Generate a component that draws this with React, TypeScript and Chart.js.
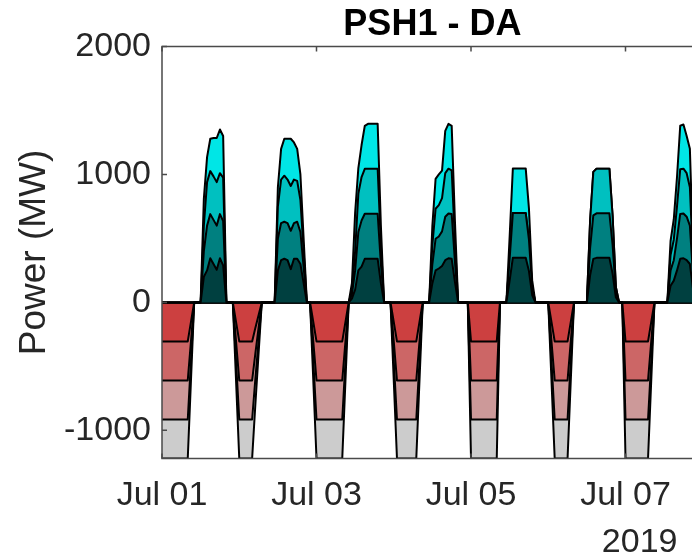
import { useEffect, useRef } from "react";
import { Chart, registerables } from "chart.js";

Chart.register(...registerables);

// ---------------- DATA (hourly, 2019-07-01 00:00 .. 2019-07-08 00:00) ----------------
const chartTitle = "PSH1 - DA";
const yAxisTitle = "Power (MW)";
const xTickHours = [0, 48, 96, 144];
const xTickLabels = ["Jul 01", "Jul 03", "Jul 05", "Jul 07"];
const yearLabel = "2019";
const yTickValues = [-1000, 0, 1000, 2000];
const yMin = -1220;
const yMax = 2000;
const xMax = 168;

// Generation of the four units (MW), one row per day (24 h)
const genUnit1 = [
  0,0,0,0,0,0,0,0,0,0,0,0,0,200,250,345,300,255,345,290,0,0,0,0,
  0,0,0,0,0,0,0,0,0,0,0,0,250,330,341,330,260,341,341,300,150,0,0,0,
  0,0,0,0,0,0,0,0,0,0,0,30,100,250,280,341,341,341,341,341,150,0,0,0,
  0,0,0,0,0,0,0,0,0,0,0,0,150,250,265,285,330,345,341,160,0,0,0,0,
  0,0,0,0,0,0,0,0,0,0,0,0,170,349,349,349,349,349,245,58,0,0,0,0,
  0,0,0,0,0,0,0,0,0,0,0,0,0,212,340,348,348,348,348,348,224,40,0,0,
  0,0,0,0,0,0,0,0,0,0,0,0,0,0,130,170,250,341,345,330,300,100,0,0,
  0,
];
const genUnit2 = [
  0,0,0,0,0,0,0,0,0,0,0,0,0,200,350,345,345,345,345,345,0,0,0,0,
  0,0,0,0,0,0,0,0,0,0,0,0,250,290,289,290,300,279,289,250,125,0,0,0,
  0,0,0,0,0,0,0,0,0,0,0,30,150,300,360,352,352,352,352,352,150,0,0,0,
  0,0,0,0,0,0,0,0,0,0,0,0,150,247,250,270,340,350,350,160,0,0,0,0,
  0,0,0,0,0,0,0,0,0,0,0,0,170,349,349,349,349,349,245,58,0,0,0,0,
  0,0,0,0,0,0,0,0,0,0,0,0,0,212,340,348,348,348,348,348,224,40,0,0,
  0,0,0,0,0,0,0,0,0,0,0,0,0,0,120,160,250,350,350,340,300,100,0,0,
  0,
];
const genUnit3 = [
  0,0,0,0,0,0,0,0,0,0,0,0,0,200,340,336,340,340,320,340,0,0,0,0,
  0,0,0,0,0,0,0,0,0,0,0,0,250,340,360,340,350,340,320,250,125,0,0,0,
  0,0,0,0,0,0,0,0,0,0,0,30,150,300,340,351,351,351,351,351,150,0,0,0,
  0,0,0,0,0,0,0,0,0,0,0,0,150,235,245,260,340,350,340,160,0,0,0,0,
  0,0,0,0,0,0,0,0,0,0,0,0,0,0,0,0,0,0,0,0,0,0,0,0,
  0,0,0,0,0,0,0,0,0,0,0,0,0,212,340,348,348,348,348,348,224,40,0,0,
  0,0,0,0,0,0,0,0,0,0,0,0,0,0,120,160,250,350,350,340,300,100,0,0,
  0,
];
const genUnit4 = [
  0,0,0,0,0,0,0,0,0,0,0,0,0,210,195,253,300,345,341,325,0,0,0,0,
  0,0,0,0,0,0,0,0,0,0,0,0,150,240,289,319,369,290,250,200,100,0,0,0,
  0,0,0,0,0,0,0,0,0,0,0,60,300,200,250,336,352,352,352,352,150,0,0,0,
  0,0,0,0,0,0,0,0,0,0,0,0,150,234,240,215,330,350,349,160,0,0,0,0,
  0,0,0,0,0,0,0,0,0,0,0,0,170,349,349,349,349,349,245,58,0,0,0,0,
  0,0,0,0,0,0,0,0,0,0,0,0,0,0,0,0,0,0,0,0,0,0,0,0,
  0,0,0,0,0,0,0,0,0,0,0,0,0,0,110,160,230,340,345,290,300,100,0,0,
  0,
];
// Pumping of each unit (MW, all four units pump identically)
const pumpPerUnit = [
  -305,-305,-305,-305,-305,-305,-305,-305,-305,-152,0,0,0,0,0,0,0,0,0,0,0,0,0,-152,
  -305,-305,-305,-305,-305,-200,-100,0,0,0,0,0,0,0,0,0,0,0,0,0,0,0,0,-152,
  -305,-305,-305,-305,-305,-305,-305,-305,-305,-152,0,0,0,0,0,0,0,0,0,0,0,0,0,0,
  -152,-305,-305,-305,-305,-305,-305,-305,-152,0,0,0,0,0,0,0,0,0,0,0,0,0,0,0,
  -305,-305,-305,-305,-305,-305,-305,-305,-305,0,0,0,0,0,0,0,0,0,0,0,0,0,0,0,
  0,-152,-305,-305,-305,-305,-305,-152,0,0,0,0,0,0,0,0,0,0,0,0,0,0,0,0,
  -305,-305,-305,-305,-305,-305,-305,-305,-152,0,0,0,0,0,0,0,0,0,0,0,0,0,0,0,
  0,
];

const genSeries = [genUnit1, genUnit2, genUnit3, genUnit4];
const pumpSeries = [pumpPerUnit, pumpPerUnit, pumpPerUnit, pumpPerUnit];
const genColors = ["rgb(0,64,64)", "rgb(0,128,128)", "rgb(0,192,192)", "rgb(0,230,230)"];
const pumpColors = ["rgb(204,64,64)", "rgb(204,102,102)", "rgb(204,153,153)", "rgb(204,204,204)"];

// ---------------- STYLE ----------------
const FONT = "'Liberation Sans', Arial, Helvetica, sans-serif";
const TEXT = "#262626";

const axisBoxPlugin = {
  id: "axisBox",
  afterDatasetsDraw(chart: any) {
    const { ctx, chartArea: a, scales } = chart;
    const xs = scales.x;
    const ys = scales.y;
    const tl = 5;
    ctx.save();
    ctx.strokeStyle = "#4a4a4a";
    ctx.lineWidth = 1.5;
    ctx.strokeRect(a.left, a.top, a.right - a.left, a.bottom - a.top);
    ctx.beginPath();
    for (const v of yTickValues) {
      const py = ys.getPixelForValue(v);
      ctx.moveTo(a.left, py);
      ctx.lineTo(a.left + tl, py);
      ctx.moveTo(a.right, py);
      ctx.lineTo(a.right - tl, py);
    }
    for (const h of xTickHours) {
      const px = xs.getPixelForValue(h);
      ctx.moveTo(px, a.bottom);
      ctx.lineTo(px, a.bottom - tl);
      ctx.moveTo(px, a.top);
      ctx.lineTo(px, a.top + tl);
    }
    ctx.stroke();
    ctx.restore();
  },
};

export default function App() {
  const ref = useRef<HTMLCanvasElement | null>(null);

  useEffect(() => {
    if (!ref.current) return;
    const hours = genUnit1.map((_, i) => i);
    const makeSet = (values: number[], color: string, stack: string, first: boolean) => ({
      data: values.map((v, i) => ({ x: hours[i], y: v })),
      backgroundColor: color,
      borderColor: "#000",
      borderWidth: 2,
      borderJoinStyle: "round",
      pointRadius: 0,
      tension: 0,
      stack,
      fill: first ? "origin" : "-1",
    });
    const datasets = [
      ...genSeries.map((s, i) => makeSet(s, genColors[i], "gen", i === 0)),
      ...pumpSeries.map((s, i) => makeSet(s, pumpColors[i], "pump", i === 0)),
    ];

    const chart = new Chart(ref.current, {
      type: "line",
      data: { datasets } as any,
      options: {
        responsive: false,
        maintainAspectRatio: false,
        devicePixelRatio: 1,
        animation: false,
        layout: { padding: { left: 0, top: 0, right: 17.25, bottom: 0 } },
        plugins: {
          legend: { display: false },
          tooltip: { enabled: false },
          title: {
            display: true,
            text: chartTitle,
            fullSize: false,
            color: "#000",
            font: { family: FONT, size: 36, weight: "bold", lineHeight: 1.2 },
            padding: { top: 3.3, bottom: 0 },
          },
        },
        scales: {
          x: {
            type: "linear",
            min: 0,
            max: xMax,
            grid: { display: false },
            border: { display: false },
            afterBuildTicks: (s: any) => {
              s.ticks = xTickHours.map((v) => ({ value: v }));
            },
            afterFit: (s: any) => {
              s.height = 97.5;
            },
            ticks: {
              autoSkip: false,
              maxRotation: 0,
              padding: 5,
              color: TEXT,
              font: { family: FONT, size: 34, lineHeight: 1.4 },
              callback: (v: any) => {
                const i = xTickHours.indexOf(Number(v));
                if (i < 0) return "";
                return i === xTickHours.length - 1 ? [xTickLabels[i], "   " + yearLabel] : xTickLabels[i];
              },
            },
          },
          y: {
            type: "linear",
            stacked: true,
            min: yMin,
            max: yMax,
            grid: { display: false },
            border: { display: false },
            afterBuildTicks: (s: any) => {
              s.ticks = yTickValues.map((v) => ({ value: v }));
            },
            afterFit: (s: any) => {
              s.width = 162;
            },
            ticks: {
              padding: 3,
              color: TEXT,
              font: { family: FONT, size: 34 },
              callback: (v: any) => String(v),
            },
            title: {
              display: true,
              text: yAxisTitle,
              color: TEXT,
              font: { family: FONT, size: 37 },
              padding: { top: 13, bottom: 0 },
            },
          },
        },
      } as any,
      plugins: [axisBoxPlugin],
    });
    return () => chart.destroy();
  }, []);

  return (
    <div style={{ position: "absolute", left: 0, top: 0, width: 692, height: 556, overflow: "hidden", background: "#fff" }}>
      <canvas ref={ref} width={720} height={556} style={{ display: "block" }} />
    </div>
  );
}
